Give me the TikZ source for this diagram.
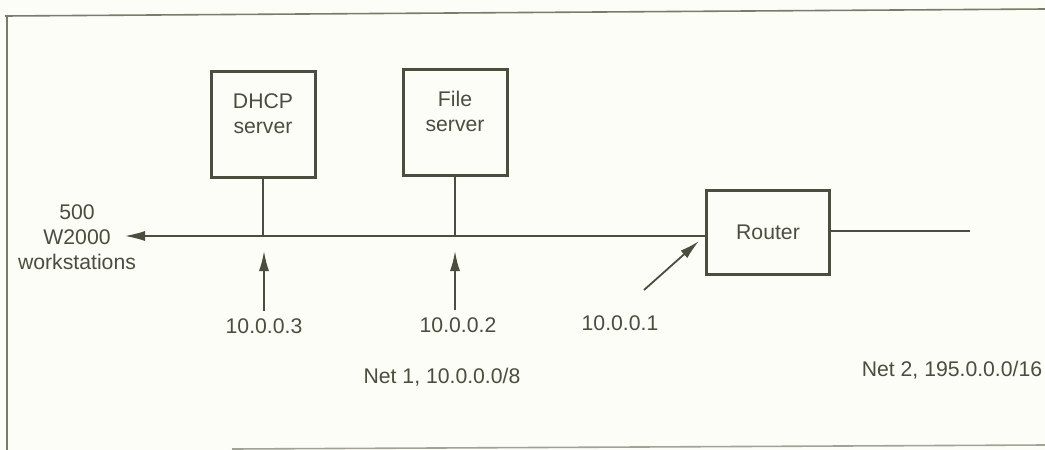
\documentclass[tikz,border=0pt]{standalone}
\usepackage{fontspec}
\setmainfont{Liberation Sans}
\usepackage{xcolor}
\usepackage{tikz}
\usetikzlibrary{arrows.meta,positioning}
\definecolor{ink}{HTML}{4B4D3E}
\definecolor{paper}{HTML}{FDFDF7}
\definecolor{rule}{HTML}{7A7C6A}
\tikzstyle{everynode}=[text=ink,font=\fontsize{10.6}{12.6}\selectfont,align=center]
\tikzstyle{box}=[draw=ink,line width=1.5pt,minimum width=52pt,minimum height=53pt,everynode]
\tikzstyle{wire}=[draw=ink,line width=0.6pt]
\tikzstyle{arr}=[draw=ink,line width=0.9pt,-{Latex[length=10pt,width=5pt]}]
\tikzstyle{ip}=[everynode]

\begin{document}
\begin{tikzpicture}[x=0.5pt,y=-0.5pt]
    \useasboundingbox (0,0) rectangle (1045,450);
    \fill[paper] (0,0) rectangle (1045,450);
    \draw[rule,line width=0.8pt] (5,16) -- (1045,9);
    \draw[rule,line width=0.8pt] (7,16) -- (7,450);
    \draw[rule!70,line width=0.8pt] (232,449) -- (1045,445);
    % hosts
    \node[box] (dhcp) at (263,124) {DHCP\\server\\[-6pt]\strut};
    \node[box] (file) at (455,122) {File\\server\\[-6pt]\strut};
    \node[box,minimum width=61.5pt,minimum height=42pt] (router) at (768,232) {Router};
    \node[everynode] (ws) at (77,237) {500\\W2000\\workstations};
    \coordinate (wstip) at (125,236);
    \coordinate (net2end) at (970,231);
    % wires
    \draw[arr,line width=0.6pt] (router.west |- wstip) -- (wstip);
    \draw[wire] (dhcp.south) -- (dhcp.south |- wstip);
    \draw[wire] (file.south) -- (file.south |- wstip);
    \draw[wire] (router.east |- net2end) -- (net2end);
    % addresses
    \node[ip] (ip3) at (264,326) {10.0.0.3};
    \node[ip] (ip2) at (458,325) {10.0.0.2};
    \node[ip] (ip1) at (620,323) {10.0.0.1};
    \draw[arr,shorten >=7.5pt] (ip3.north) -- (ip3.north |- wstip);
    \draw[arr,shorten >=7.5pt] (ip2.north -| file.south) -- (file.south |- wstip);
    \coordinate (r1) at (644,290);
    \draw[arr] (r1) -- ([xshift=-3pt,yshift=-4.5pt]router.west);
    % networks
    \node[everynode] (net1) at (442,377) {Net 1, 10.0.0.0/8};
    \node[everynode] (net2) at (952,370) {Net 2, 195.0.0.0/16};
  \end{tikzpicture}
\end{document}
